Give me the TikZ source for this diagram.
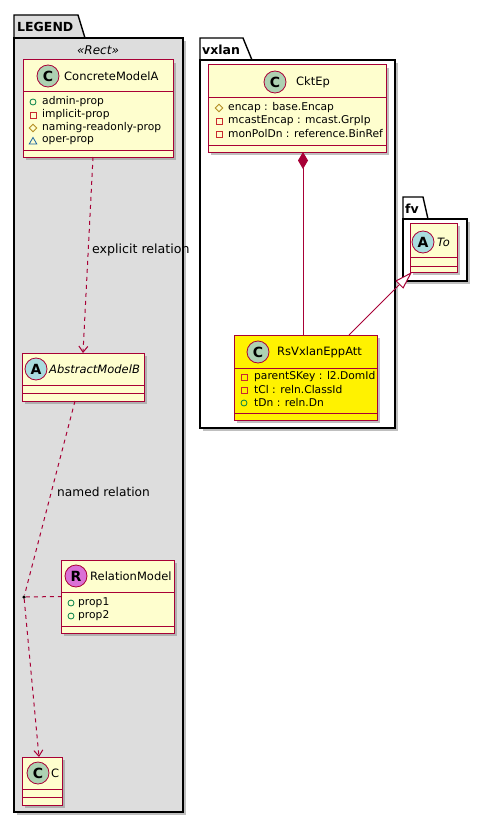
\documentclass[tikz,border=0pt]{standalone}
\usepackage{fontspec}
\setmainfont{DejaVu Sans}
\usetikzlibrary{arrows.meta,shadows,fit}
\definecolor{umlred}{HTML}{A80036}
\definecolor{umlfill}{HTML}{FEFECE}
\definecolor{pkgfill}{HTML}{DDDDDD}
\definecolor{cgreen}{HTML}{ADD1B2}
\definecolor{ablue}{HTML}{A9DCDF}
\definecolor{rpink}{HTML}{DA70D6}
\definecolor{pubgreen}{HTML}{038048}
\definecolor{privred}{HTML}{C82930}
\definecolor{protgold}{HTML}{B38D22}
\definecolor{pkgblue}{HTML}{1963A0}
\newcommand\pubicon[2]{\draw[pubgreen, line width=.8pt] (#1,#2) circle (3);}
\newcommand\privicon[2]{\draw[privred, line width=.8pt] (#1-3,#2-3) rectangle (#1+3,#2+3);}
\newcommand\proticon[2]{\draw[protgold, line width=.8pt] (#1,#2-3.8) -- (#1+3.8,#2) -- (#1,#2+3.8) -- (#1-3.8,#2) -- cycle;}
\newcommand\pkgicon[2]{\draw[pkgblue, line width=.8pt] (#1,#2-3.5) -- (#1+3.8,#2+3) -- (#1-3.8,#2+3) -- cycle;}
\begin{document}
\begin{tikzpicture}[x=1pt,y=-1pt,
  shad/.style={drop shadow={shadow xshift=3pt, shadow yshift=-3pt, fill=black!45, opacity=.55}},
  clsbox/.style={draw=umlred, line width=1pt, fill=umlfill, inner sep=0pt, outer sep=0pt, shad},
  pkgbody/.style={draw=black, line width=1.4pt, inner sep=0pt, outer sep=0pt, shad},
  sepline/.style={draw=umlred, line width=1pt},
  circ/.style={circle, draw=umlred, line width=.8pt, minimum size=22pt, inner sep=0pt, font=\fontsize{14}{14}\selectfont\bfseries},
  cname/.style={anchor=west, inner sep=0pt, font=\fontsize{11.5}{13}\selectfont},
  attr/.style={anchor=west, inner sep=0pt, font=\fontsize{10.7}{12}\selectfont},
  lbl/.style={anchor=west, inner sep=0pt, font=\fontsize{12.6}{14}\selectfont},
  pkglbl/.style={anchor=west, inner sep=0pt, font=\fontsize{12.5}{14}\selectfont\bfseries},
  conn/.style={draw=umlred, line width=1pt},
  dep/.style={conn, dash pattern=on 4pt off 4pt},
]
\useasboundingbox (0,0) rectangle (487,824);
\fill[white] (0,0) rectangle (487,824);

% ---------- LEGEND package
\draw[black, line width=1.4pt, fill=pkgfill] (14,38) -- (14,15) -- (78,15) -- (85,38);
\node[pkgbody, fill=pkgfill, fit={(14,38) (183,812)}] (legend) {};
\node[pkglbl] (legendlbl) at (17,27) {LEGEND};
\node[font=\fontsize{12}{14}\selectfont\itshape, inner sep=0pt] (rect) at (98,50) {«Rect»};

% ConcreteModelA
\node[clsbox, fit={(23,60) (173,157)}] (cA) {};
\draw[sepline] (23,92) -- (173,92);
\draw[sepline] (23,150) -- (173,150);
\node[circ, fill=cgreen] (cAi) at (48,76) {C};
\node[cname] (cAn) at (64,76) {ConcreteModelA};
\pubicon{33}{102}\node[attr] (a1) at (42,102) {admin-prop};
\privicon{33}{115}\node[attr] (a2) at (42,115) {implicit-prop};
\proticon{33}{128}\node[attr] (a3) at (42,128) {naming-readonly-prop};
\pkgicon{33}{141}\node[attr] (a4) at (42,141) {oper-prop};

% AbstractModelB
\node[clsbox, fit={(22,353) (144,401)}] (cB) {};
\draw[sepline] (22,385) -- (144,385);
\draw[sepline] (22,393) -- (144,393);
\node[circ, fill=ablue] (cBi) at (36,369) {A};
\node[cname, font=\fontsize{11.5}{13}\selectfont\itshape] (cBn) at (49,369) {AbstractModelB};

% RelationModel
\node[clsbox, fit={(61,560) (174,633)}] (cR) {};
\draw[sepline] (61,592) -- (174,592);
\draw[sepline] (61,626) -- (174,626);
\node[circ, fill=rpink] (cRi) at (76,576) {R};
\node[cname] (cRn) at (90,576) {RelationModel};
\pubicon{71}{603}\node[attr] (r1) at (78,603) {prop1};
\pubicon{71}{616}\node[attr] (r2) at (78,616) {prop2};

% C
\node[clsbox, fit={(22,757) (62,805)}] (cC) {};
\draw[sepline] (22,789) -- (62,789);
\draw[sepline] (22,797) -- (62,797);
\node[circ, fill=cgreen] (cCi) at (38,773) {C};
\node[cname] (cCn) at (51,773) {C};

% association point
\node[circle, fill=black, inner sep=0pt, minimum size=3.5pt] (dot) at (24,597) {};

% legend connectors
\draw[dep, -{Straight Barb[length=6pt, width=9pt]}] ([xshift=-5pt]cA.south) -- (cB.north);
\node[lbl] (l1) at (92,250) {explicit relation};
\draw[dep] ([xshift=-8pt]cB.south) -- (dot);
\node[lbl, font=\fontsize{12.2}{14}\selectfont] (l2) at (57,492) {named relation};
\draw[dep] (dot) -- (cR.west);
\draw[dep, -{Straight Barb[length=6pt, width=9pt]}] (dot) -- ([xshift=-3pt]cC.north);

% ---------- vxlan package
\draw[black, line width=1.4pt, fill=white] (200,60) -- (200,38) -- (243,38) -- (252,60);
\node[pkgbody, fill=white, fit={(200,60) (395,428)}] (vxlan) {};
\node[pkglbl] (vxlanlbl) at (202,50) {vxlan};

% CktEp
\node[clsbox, fit={(208,65) (386,152)}] (cK) {};
\draw[sepline] (208,98) -- (386,98);
\draw[sepline] (208,145) -- (386,145);
\node[circ, fill=cgreen] (cKi) at (275,82) {C};
\node[cname] (cKn) at (296,82) {CktEp};
\proticon{219}{108}\node[attr] (k1) at (228,108) {encap : base.Encap};
\privicon{219}{121}\node[attr] (k2) at (228,121) {mcastEncap : mcast.GrpIp};
\privicon{219}{134}\node[attr] (k3) at (228,134) {monPolDn : reference.BinRef};

% RsVxlanEppAtt
\node[clsbox, fill=yellow, fit={(234,335) (377,420)}] (cE) {};
\draw[sepline] (234,368) -- (377,368);
\draw[sepline] (234,413) -- (377,413);
\node[circ, fill=cgreen] (cEi) at (258,352) {C};
\node[cname] (cEn) at (277,352) {RsVxlanEppAtt};
\privicon{244}{377}\node[attr] (e1) at (254,377) {parentSKey : l2.DomId};
\privicon{244}{390}\node[attr] (e2) at (254,390) {tCl : reln.ClassId};
\pubicon{244}{403}\node[attr] (e3) at (254,403) {tDn : reln.Dn};

% ---------- fv package
\draw[black, line width=1.4pt, fill=white] (403,219) -- (403,197) -- (423,197) -- (428,219);
\node[pkgbody, fill=white, fit={(403,219) (467,281)}] (fv) {};
\node[pkglbl] (fvlbl) at (405,209) {fv};

% To
\node[clsbox, fit={(410,223) (457,272)}] (cT) {};
\draw[sepline] (410,257) -- (457,257);
\draw[sepline] (410,266) -- (457,266);
\node[circ, fill=ablue] (cTi) at (423,242) {A};
\node[cname, font=\fontsize{11.5}{13}\selectfont\itshape] (cTn) at (437,242) {To};

% vxlan connectors
\draw[conn, {Diamond[length=17pt, width=10pt, fill=umlred]}-] ([xshift=6pt]cK.south) -- ([xshift=-2.5pt]cE.north);
\draw[conn, -{Triangle[open, length=18pt, width=11pt, fill=white]}] ([xshift=43.5pt]cE.north) -- ([xshift=-21.5pt]cT.south);
\end{tikzpicture}
\end{document}
